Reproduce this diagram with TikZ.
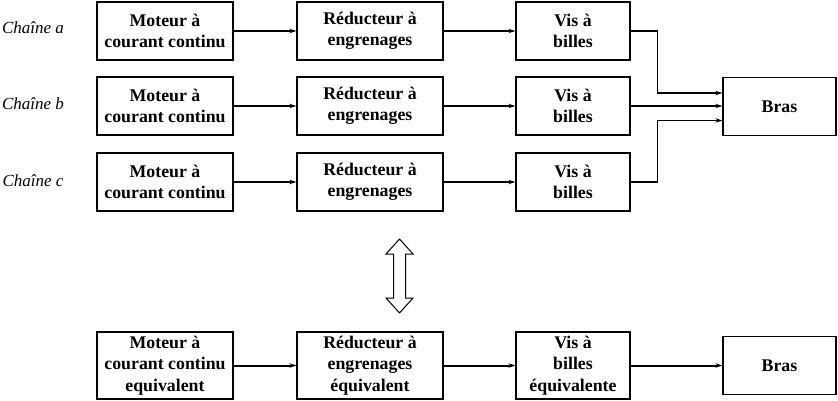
\documentclass[tikz,border=0pt]{standalone}
\usepackage{fontspec}
\setmainfont{Liberation Serif}
\usetikzlibrary{arrows.meta}
\tikzset{
  bloc/.style={draw, line width=1.3pt, align=center, font=\fontsize{17.8}{21.5}\selectfont\bfseries, inner sep=0pt, minimum height=58pt},
  fleche/.style={-{Stealth[length=7pt,width=4.5pt]}, line width=1.4pt},
  chaine/.style={font=\fontsize{17}{19}\selectfont\itshape}
}
\begin{document}
\begin{tikzpicture}[x=1pt,y=-1pt]
        \useasboundingbox (0,0) rectangle (838,401);

        % Noms des chaines
        \node[chaine] (ca) at (33,28) {Chaîne \textit{a}};
        \node[chaine] (cb) at (33,104) {Chaîne \textit{b}};
        \node[chaine] (cc) at (33,181) {Chaîne \textit{c}};

        % Chaine a
        \node[bloc, minimum width=136pt] (moteurA) at (165,31) {Moteur à\\courant continu};
        \node[bloc, minimum width=146pt] (reducA) at (370,31) {Réducteur à\\engrenages};
        \node[bloc, minimum width=114pt] (visA) at (573,31) {Vis à\\billes};

        % Chaine b
        \node[bloc, minimum width=136pt] (moteurB) at (165,106) {Moteur à\\courant continu};
        \node[bloc, minimum width=146pt] (reducB) at (370,106) {Réducteur à\\engrenages};
        \node[bloc, minimum width=114pt] (visB) at (573,106) {Vis à\\billes};

        % Chaine c
        \node[bloc, minimum width=136pt] (moteurC) at (165,182) {Moteur à\\courant continu};
        \node[bloc, minimum width=146pt] (reducC) at (370,182) {Réducteur à\\engrenages};
        \node[bloc, minimum width=114pt] (visC) at (573,182) {Vis à\\billes};

        \node[bloc, minimum width=113pt] (bras) at (779.5,106.5) {Bras};

        % Liaisons des chaines
        \draw[fleche, line width=2.8pt] (moteurA) -- (reducA);
        \draw[fleche, line width=2.8pt] (reducA) -- (visA);
        \draw[fleche, line width=1.8pt] (moteurB) -- (reducB);
        \draw[fleche, line width=1.8pt] (reducB) -- (visB);
        \draw[fleche, line width=1.8pt] (moteurC) -- (reducC);
        \draw[fleche, line width=1.8pt] (reducC) -- (visC);
        \draw[fleche] (visA.east) -- (657.5,31) |- ([yshift=13.5pt]bras.west);
        \draw[fleche, line width=2.2pt] (visB.east) -- (bras.west |- visB.east);
        \draw[fleche] (visC.east) -- (657.5,182) |- ([yshift=-14pt]bras.west);

        % Double fleche d'equivalence
        \draw[line width=1pt] (399.5,239) -- (413,254) -- (405.5,254) -- (405.5,298) -- (413,298)
          -- (399.5,313) -- (386,298) -- (393.5,298) -- (393.5,254) -- (386,254) -- cycle;

        % Chaine equivalente
        \node[bloc, minimum width=136pt, minimum height=67pt] (moteurEq) at (165,365.5) {Moteur à\\courant continu\\equivalent};
        \node[bloc, minimum width=146pt, minimum height=67pt] (reducEq) at (370,365.5) {Réducteur à\\engrenages\\équivalent};
        \node[bloc, minimum width=114pt, minimum height=67pt] (visEq) at (573,365.5) {Vis à\\billes\\équivalente};
        \node[bloc, minimum width=113pt] (brasEq) at (779.5,365.5) {Bras};

        \draw[fleche, line width=2pt] (moteurEq) -- (reducEq);
        \draw[fleche, line width=2pt] (reducEq) -- (visEq);
        \draw[fleche, line width=2pt] (visEq) -- (brasEq);
    \end{tikzpicture}
\end{document}
